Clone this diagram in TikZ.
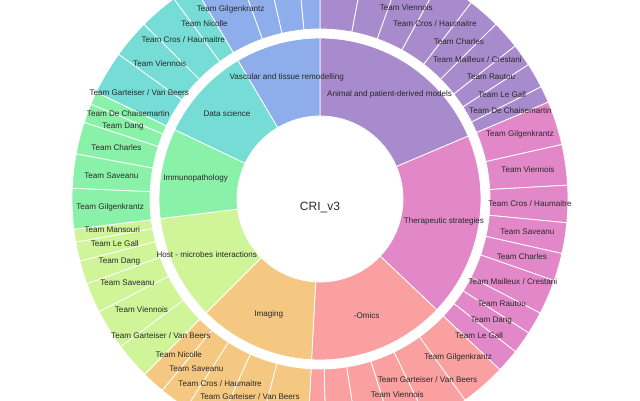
\documentclass[tikz,border=0pt]{standalone}
\usepackage{fontspec}
\setmainfont{Liberation Sans}

\definecolor{animal}{RGB}{167,139,204}
\definecolor{therapy}{RGB}{226,136,200}
\definecolor{omics}{RGB}{251,160,160}
\definecolor{imaging}{RGB}{244,200,128}
\definecolor{host}{RGB}{208,244,152}
\definecolor{immuno}{RGB}{138,242,168}
\definecolor{datasci}{RGB}{118,220,214}
\definecolor{vascular}{RGB}{141,173,235}
\definecolor{ink}{RGB}{40,40,40}

\begin{document}
\begin{tikzpicture}[%
        sector/.style = {draw = white, line width = 0.8pt},
        slicetext/.style = {%
            font = \fontsize{8.1}{9}\selectfont,
            text = ink,
            inner sep = 0pt
        }
    ]

        % The frame of the picture.
        \fill[white] (-320pt, -201pt) rectangle (320pt, 199pt);
        \useasboundingbox (-320pt, -201pt) rectangle (320pt, 199pt);

        % Inner ring, one sector per theme.
        \foreach \a/\b/\c in {90/23/animal, 23/-43.5/therapy, -43.5/-93/omics,
            -93/-135/imaging, 225/187/host, 187/154.5/immuno,
            154.5/120.6/datasci, 120.6/90/vascular}{%
            \path[sector, fill = \c] (\a:83pt) -- (\a:161pt)
                arc[start angle = \a, end angle = \b, radius = 161pt]
                -- (\b:83pt)
                arc[start angle = \b, end angle = \a, radius = 83pt] -- cycle;
        }

        % Outer ring, one sector per team.
        \foreach \a/\b/\c in {%
            90/79.2/animal, 79.2/70.3/animal, 70.3/61.2/animal,
            61.2/52.4/animal, 52.4/44.8/animal, 44.8/38.1/animal,
            38.1/32.8/animal, 32.8/26.9/animal, 26.9/23/animal,
            23/12.7/therapy, 12.7/3.2/therapy, 3.2/-5.5/therapy,
            -5.5/-12.7/therapy, -12.7/-19.2/therapy, -19.2/-27.4/therapy,
            -27.4/-32.7/therapy, -32.7/-38/therapy, -38/-43.5/therapy,
            -43.5/-54.2/omics, -54.2/-64.2/omics, -64.2/-72.6/omics,
            -72.6/-81/omics, -81/-88.6/omics, -88.6/-93/omics,
            -93/-104.7/imaging, -104.7/-114.2/imaging, -114.2/-122.6/imaging,
            -122.6/-129.5/imaging, -129.5/-135/imaging,
            225/216.5/host, 216.5/207/host, 207/200/host,
            200/194.5/host, 194.5/190/host, 190/187/host,
            187/177.5/immuno, 177.5/169.5/immuno, 169.5/162/immuno,
            162/157.5/immuno, 157.5/154.5/immuno,
            154.5/144.3/datasci, 144.3/135.2/datasci, 135.2/126.1/datasci,
            126.1/120.6/datasci,
            120.6/109.8/vascular, 109.8/102.9/vascular, 102.9/95.4/vascular,
            95.4/90/vascular}{%
            \path[sector, fill = \c] (\a:170pt) -- (\a:248pt)
                arc[start angle = \a, end angle = \b, radius = 248pt]
                -- (\b:170pt)
                arc[start angle = \b, end angle = \a, radius = 170pt] -- cycle;
        }

        % Label the themes.
        \foreach \m/\n/\t in {%
            56.5/animal/{Animal and patient-derived models},
            -10.25/therapy/{Therapeutic strategies},
            -68.25/omics/{-Omics},
            -114/imaging/{Imaging},
            206/host/{Host - microbes interactions},
            170.75/immuno/{Immunopathology},
            137.55/datasci/{Data science},
            105.3/vascular/{Vascular and tissue remodelling}}{%
            \node[slicetext] (\n) at (\m:126pt) {\t};
        }

        % Label the teams.
        \foreach \a/\b/\n/\t in {%
            70.3/61.2/a-viennois/{Team Viennois},
            61.2/52.4/a-cros/{Team Cros / Haumaitre},
            52.4/44.8/a-charles/{Team Charles},
            44.8/38.1/a-mailleux/{Team Mailleux / Crestani},
            38.1/32.8/a-rautou/{Team Rautou},
            32.8/26.9/a-legall/{Team Le Gall},
            26.9/23/a-dechaisemartin/{Team De Chaisemartin},
            23/12.7/t-gilgenkrantz/{Team Gilgenkrantz},
            12.7/3.2/t-viennois/{Team Viennois},
            3.2/-5.5/t-cros/{Team Cros / Haumaitre},
            -5.5/-12.7/t-saveanu/{Team Saveanu},
            -12.7/-19.2/t-charles/{Team Charles},
            -19.2/-27.4/t-mailleux/{Team Mailleux / Crestani},
            -27.4/-32.7/t-rautou/{Team Rautou},
            -32.7/-38/t-dang/{Team Dang},
            -38/-43.5/t-legall/{Team Le Gall},
            -43.5/-54.2/o-gilgenkrantz/{Team Gilgenkrantz},
            -54.2/-64.2/o-garteiser/{Team Garteiser / Van Beers},
            -64.2/-72.6/o-viennois/{Team Viennois},
            -104.7/-114.2/i-garteiser/{Team Garteiser / Van Beers},
            -114.2/-122.6/i-cros/{Team Cros / Haumaitre},
            -122.6/-129.5/i-saveanu/{Team Saveanu},
            -129.5/-135/i-nicolle/{Team Nicolle},
            225/216.5/h-garteiser/{Team Garteiser / Van Beers},
            216.5/207/h-viennois/{Team Viennois},
            207/200/h-saveanu/{Team Saveanu},
            200/194.5/h-dang/{Team Dang},
            194.5/190/h-legall/{Team Le Gall},
            190/187/h-mansouri/{Team Mansouri},
            187/177.5/m-gilgenkrantz/{Team Gilgenkrantz},
            177.5/169.5/m-saveanu/{Team Saveanu},
            169.5/162/m-charles/{Team Charles},
            162/157.5/m-dang/{Team Dang},
            157.5/154.5/m-dechaisemartin/{Team De Chaisemartin},
            154.5/144.3/d-garteiser/{Team Garteiser / Van Beers},
            144.3/135.2/d-viennois/{Team Viennois},
            135.2/126.1/d-cros/{Team Cros / Haumaitre},
            126.1/120.6/d-nicolle/{Team Nicolle},
            120.6/109.8/v-gilgenkrantz/{Team Gilgenkrantz}}{%
            \pgfmathsetmacro\m{(\a + \b)/2}
            \node[slicetext] (\n) at (\m:210pt) {\t};
        }

        % The root in the hole.
        \node[font = \fontsize{12}{14}\selectfont, text = ink, anchor = base]
            (root) at (0pt, -11pt) {CRI\_v3};
    \end{tikzpicture}
\end{document}
